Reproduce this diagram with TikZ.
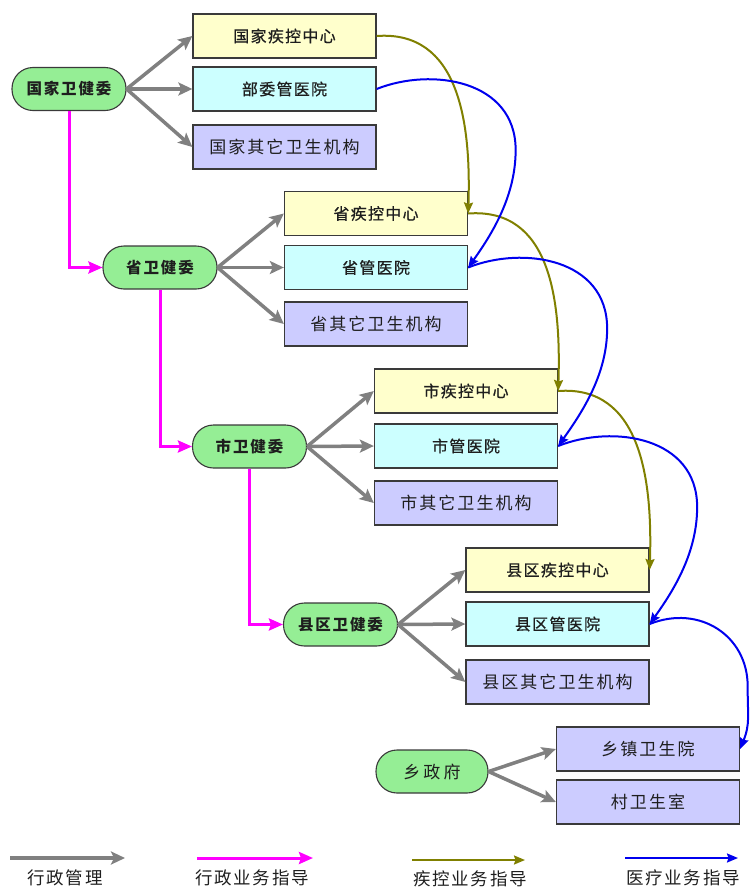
\documentclass[tikz,border=0pt]{standalone}
\usepackage{fontspec}
\setmainfont{Noto Sans CJK SC}
\newfontfamily\boxfont[LetterSpace=8,FakeBold=0.6]{Noto Sans CJK SC}
\newfontfamily\otherfont[LetterSpace=12]{Noto Sans CJK SC}
\newfontfamily\stfont[LetterSpace=12]{Noto Sans CJK SC}
\newfontfamily\wideotherfont[LetterSpace=18]{Noto Sans CJK SC}
\newfontfamily\legfont[LetterSpace=10]{Noto Sans CJK SC}
\usetikzlibrary{arrows.meta,calc}
\definecolor{boxyellow}{HTML}{FFFFCC}
\definecolor{boxcyan}{HTML}{CCFFFF}
\definecolor{boxlav}{HTML}{CCCCFF}
\definecolor{stgreen}{HTML}{95EE95}
\definecolor{grayarr}{HTML}{808080}
\definecolor{magarr}{HTML}{FF00FF}
\definecolor{olivearr}{HTML}{808000}
\definecolor{bluearr}{HTML}{0000EE}
\definecolor{edgecol}{HTML}{3A3A3A}
\definecolor{txtcol}{HTML}{1E1E1E}
\tikzset{
  orgbox/.style={draw=edgecol, line width=1.3pt, minimum width=183pt, minimum height=44pt, inner sep=0pt, text=txtcol, font=\boxfont\fontsize{16pt}{18pt}\selectfont},
  cdcbox/.style={orgbox, fill=boxyellow},
  hospbox/.style={orgbox, fill=boxcyan},
  othbox/.style={orgbox, fill=boxlav, font=\otherfont\fontsize{17pt}{19pt}\selectfont},
  stadium/.style={draw=edgecol, line width=1.1pt, fill=stgreen, rounded corners=21pt, minimum width=114pt, minimum height=43pt, inner sep=0pt, text=txtcol, font=\stfont\bfseries\fontsize{15.5pt}{17pt}\selectfont},
  grayarrow/.style={draw=grayarr, line width=3.5pt, -{Stealth[length=14pt,width=13pt,inset=3pt]}},
  magarrow/.style={draw=magarr, line width=3pt, -{Stealth[length=14pt,width=12pt,inset=2pt]}},
  olivearrow/.style={draw=olivearr, line width=2pt, -{Stealth[length=11pt,width=9pt,inset=1.5pt]}},
  bluearrow/.style={draw=bluearr, line width=2pt, -{Stealth[length=11pt,width=9pt,inset=1.5pt]}},
  legtext/.style={text=txtcol, inner sep=0pt, font=\legfont\fontsize{17.5pt}{19pt}\selectfont}
}
\begin{document}
\begin{tikzpicture}[x=1pt,y=-1pt]
\useasboundingbox (0,0) rectangle (750,889);
% stadiums
\node[stadium] (s1) at (69,89) {国家卫健委};
\node[stadium] (s2) at (160,267.5) {省卫健委};
\node[stadium] (s3) at (249.5,446.5) {市卫健委};
\node[stadium] (s4) at (340.5,624.5) {县区卫健委};
\node[stadium, minimum width=112pt, font=\wideotherfont\fontsize{17pt}{19pt}\selectfont] (s5) at (432,771.5) {乡政府};
% level 1
\node[cdcbox] (c1) at (284.5,36) {国家疾控中心};
\node[hospbox] (h1) at (284.5,89) {部委管医院};
\node[othbox] (o1) at (284.5,147) {国家其它卫生机构};
% level 2
\node[cdcbox] (c2) at (376,213.5) {省疾控中心};
\node[hospbox] (h2) at (376,267.5) {省管医院};
\node[othbox] (o2) at (376,324) {省其它卫生机构};
% level 3
\node[cdcbox] (c3) at (466,391) {市疾控中心};
\node[hospbox] (h3) at (466,446) {市管医院};
\node[othbox] (o3) at (466,503) {市其它卫生机构};
% level 4
\node[cdcbox] (c4) at (557.5,570) {县区疾控中心};
\node[hospbox] (h4) at (557.5,624) {县区管医院};
\node[othbox] (o4) at (557.5,682) {县区其它卫生机构};
% level 5
\node[othbox] (t5) at (648,749) {乡镇卫生院};
\node[othbox] (v5) at (648,802) {村卫生室};
% gray: administration
\foreach \s/\a/\b/\c in {s1/c1/h1/o1, s2/c2/h2/o2, s3/c3/h3/o3, s4/c4/h4/o4}{
  \draw[grayarrow] (\s.east) -- (\a.west);
  \draw[grayarrow] (\s.east) -- (\b.west);
  \draw[grayarrow] (\s.east) -- (\c.west);
}
\draw[grayarrow] (s5.east) -- (t5.west);
\draw[grayarrow] (s5.east) -- (v5.west);
% magenta
\draw[magarrow] (s1.south) |- (s2.west);
\draw[magarrow] (s2.south) |- (s3.west);
\draw[magarrow] (s3.south) |- (s4.west);
% olive: CDC guidance
\draw[olivearrow] (c1.east) .. controls +(82,-6) and +(3,-92) .. (c2.east);
\draw[olivearrow] (c2.east) .. controls +(82,-6) and +(3,-92) .. (c3.east);
\draw[olivearrow] (c3.east) .. controls +(82,-6) and +(3,-92) .. (c4.east);
% blue: medical guidance
\draw[bluearrow] (h1.east) .. controls +(55,-22) and +(0,-70) .. ($(h1.east)+(139,61)$) .. controls +(0,45) and +(25,-35) .. (h2.east);
\draw[bluearrow] (h2.east) .. controls +(55,-22) and +(0,-70) .. ($(h2.east)+(139,61)$) .. controls +(0,45) and +(25,-35) .. (h3.east);
\draw[bluearrow] (h3.east) .. controls +(55,-22) and +(0,-70) .. ($(h3.east)+(139,61)$) .. controls +(0,45) and +(25,-35) .. (h4.east);
\draw[bluearrow] (h4.east) .. controls +(50,-20) and +(0,-50) .. ($(h4.east)+(98,62)$) .. controls +(0,30) and +(10,-25) .. (t5.east);
% legend
\coordinate (la1) at (10,858); \coordinate (lb1) at (125,858);
\coordinate (la2) at (197,858); \coordinate (lb2) at (313,858);
\coordinate (la3) at (412,860); \coordinate (lb3) at (525,860);
\coordinate (la4) at (625,858); \coordinate (lb4) at (738,858);
\draw[grayarrow] (la1) -- (lb1);
\draw[magarrow] (la2) -- (lb2);
\draw[olivearrow] (la3) -- (lb3);
\draw[bluearrow] (la4) -- (lb4);
\node[legtext] (lt1) at (65,878) {行政管理};
\node[legtext] (lt2) at (252,878) {行政业务指导};
\node[legtext] (lt3) at (470,879) {疾控业务指导};
\node[legtext] (lt4) at (683,878) {医疗业务指导};
\end{tikzpicture}
\end{document}
